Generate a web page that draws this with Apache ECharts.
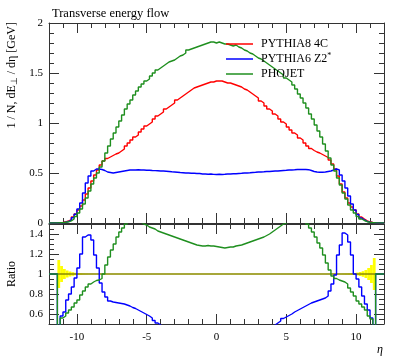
<!DOCTYPE html>
<html><head><meta charset="utf-8">
<script src="https://cdn.jsdelivr.net/npm/echarts@6/dist/echarts.min.js"></script>
<style>html,body{margin:0;padding:0;background:#fff}#c{width:397px;height:358px}</style>
</head><body><div id="c"></div>
<script>
// histogram bins: first lower edge and bin width (eta)
const etaStart = -11.4;
const binWidth = 0.2;
const xTickLabels = [-10, -5, 0, 5, 10];
const yTickLabels = [0, 0.5, 1, 1.5, 2];
const ratioTickLabels = [0.6, 0.8, 1, 1.2, 1.4];
const seriesNames = ['PYTHIA8 4C', 'PYTHIA6 Z2*', 'PHOJET'];

// 1/N dE_T/deta [GeV], one value per bin (114 bins, eta -11.4 .. 11.4)
const pythia8 = [
0.003,0.005,0.012,0.02,0.035,0.06,0.09,0.13,0.17,0.23,
0.29,0.35,0.42,0.48,0.53,0.58,0.62,0.645,0.66,0.675,
0.69,0.70,0.72,0.74,0.77,0.80,0.83,0.86,0.88,0.91,
0.94,0.97,0.99,1.01,1.04,1.07,1.09,1.11,1.14,1.16,
1.18,1.20,1.23,1.25,1.27,1.29,1.31,1.33,1.35,1.36,
1.37,1.38,1.39,1.40,1.41,1.41,1.42,1.42,1.42,1.41,
1.40,1.40,1.39,1.38,1.37,1.36,1.34,1.33,1.31,1.29,
1.27,1.25,1.22,1.20,1.17,1.14,1.12,1.09,1.07,1.04,
1.01,0.99,0.96,0.93,0.90,0.88,0.85,0.83,0.80,0.77,
0.745,0.725,0.71,0.70,0.685,0.67,0.655,0.63,0.59,0.54,
0.47,0.39,0.31,0.25,0.20,0.16,0.13,0.09,0.06,0.04,
0.022,0.012,0.006,0.003];
const pythia6 = [
0.002,0.003,0.008,0.015,0.03,0.052,0.087,0.14,0.20,0.30,
0.40,0.47,0.52,0.54,0.54,0.535,0.525,0.51,0.505,0.50,
0.505,0.51,0.515,0.52,0.525,0.53,0.53,0.53,0.532,0.53,
0.53,0.528,0.527,0.525,0.524,0.522,0.52,0.52,0.518,0.515,
0.512,0.51,0.508,0.505,0.503,0.50,0.50,0.498,0.497,0.495,
0.495,0.49,0.49,0.488,0.49,0.486,0.485,0.488,0.485,0.487,
0.49,0.49,0.492,0.493,0.495,0.497,0.50,0.50,0.502,0.505,
0.507,0.51,0.51,0.512,0.515,0.515,0.518,0.52,0.52,0.523,
0.525,0.527,0.53,0.53,0.532,0.535,0.535,0.535,0.535,0.533,
0.525,0.515,0.51,0.507,0.507,0.51,0.515,0.52,0.53,0.54,
0.53,0.48,0.42,0.35,0.27,0.19,0.13,0.085,0.05,0.03,
0.016,0.008,0.004,0.002];
const phojet = [
0.002,0.003,0.007,0.012,0.022,0.04,0.065,0.10,0.14,0.19,
0.25,0.32,0.39,0.45,0.50,0.56,0.62,0.70,0.77,0.84,
0.90,0.96,1.02,1.08,1.14,1.19,1.23,1.28,1.32,1.36,
1.39,1.42,1.44,1.47,1.50,1.53,1.55,1.57,1.59,1.61,
1.62,1.63,1.65,1.67,1.68,1.70,1.73,1.74,1.75,1.76,
1.77,1.78,1.79,1.80,1.81,1.81,1.80,1.81,1.80,1.79,
1.79,1.78,1.77,1.78,1.76,1.75,1.73,1.72,1.70,1.69,
1.67,1.65,1.64,1.62,1.60,1.58,1.56,1.54,1.52,1.50,
1.48,1.45,1.43,1.41,1.38,1.34,1.29,1.25,1.20,1.15,
1.09,1.04,0.98,0.92,0.86,0.79,0.72,0.65,0.58,0.52,
0.45,0.38,0.30,0.24,0.18,0.13,0.10,0.065,0.04,0.025,
0.013,0.007,0.003,0.002];

// ratio panel values (MC / reference), per bin
const ratioPythia6 = [
0.45,0.58,0.62,0.74,0.80,0.87,0.96,1.06,1.20,1.37,
1.39,1.39,1.34,1.19,1.06,0.91,0.82,0.77,0.73,0.72,
0.715,0.71,0.705,0.70,0.69,0.68,0.665,0.655,0.64,0.625,
0.61,0.595,0.58,0.56,0.535,0.51,0.49,0.47,0.455,0.445,
0.43,0.42,0.41,0.40,0.39,0.385,0.38,0.37,0.365,0.36,
0.36,0.355,0.35,0.35,0.345,0.345,0.34,0.345,0.345,0.345,
0.35,0.35,0.355,0.36,0.36,0.365,0.37,0.375,0.38,0.39,
0.40,0.41,0.42,0.43,0.44,0.45,0.47,0.49,0.51,0.53,
0.555,0.57,0.585,0.60,0.62,0.635,0.65,0.665,0.68,0.695,
0.71,0.72,0.73,0.74,0.75,0.76,0.78,0.83,0.90,0.99,
1.19,1.29,1.41,1.39,1.32,1.19,1.00,0.95,0.87,0.78,
0.70,0.64,0.56,0.45];
const ratioPhojet = [
0.45,0.56,0.58,0.61,0.64,0.67,0.71,0.74,0.79,0.83,
0.87,0.90,0.92,0.935,0.94,0.955,1.00,1.09,1.17,1.24,
1.30,1.37,1.42,1.46,1.50,1.53,1.55,1.55,1.54,1.52,
1.50,1.49,1.47,1.46,1.45,1.43,1.42,1.41,1.40,1.39,
1.38,1.37,1.36,1.35,1.34,1.33,1.32,1.31,1.30,1.29,
1.285,1.28,1.28,1.285,1.28,1.28,1.275,1.27,1.265,1.26,
1.265,1.27,1.27,1.28,1.285,1.29,1.30,1.31,1.32,1.33,
1.34,1.35,1.36,1.37,1.385,1.40,1.42,1.44,1.46,1.48,
1.50,1.51,1.52,1.53,1.54,1.55,1.55,1.54,1.53,1.50,
1.46,1.42,1.37,1.31,1.26,1.19,1.11,1.04,0.98,0.955,
0.94,0.93,0.92,0.90,0.86,0.82,0.78,0.73,0.70,0.67,
0.64,0.58,0.55,0.45];
// reference relative uncertainty (half width of yellow band)
const refError = [
0.14,0.08,0.05,0.035,0.025,0.018,0.012,0.008,0.006,0.004,
0.003,0.002,0.002,0.001,0.001,0.001,0.001,0.001,0.001,0.001,
0.001,0.001,0.001,0.001,0.001,0.001,0.001,0.001,0.001,0.001,
0.001,0.001,0.001,0.001,0.001,0.001,0.001,0.001,0.001,0.001,
0.001,0.001,0.001,0.001,0.001,0.001,0.001,0.001,0.001,0.001,
0.001,0.001,0.001,0.001,0.001,0.001,0.001,0.001,0.001,0.001,
0.001,0.001,0.001,0.001,0.001,0.001,0.001,0.001,0.001,0.001,
0.001,0.001,0.001,0.001,0.001,0.001,0.001,0.001,0.001,0.001,
0.001,0.001,0.001,0.001,0.001,0.001,0.001,0.001,0.001,0.001,
0.001,0.001,0.001,0.001,0.001,0.001,0.001,0.001,0.001,0.001,
0.002,0.002,0.003,0.004,0.005,0.007,0.01,0.014,0.02,0.028,
0.04,0.06,0.09,0.16];

const FONT = 'Liberation Serif';
const AX = '#333';
const C_RED = '#ff0000', C_BLUE = '#0000ff', C_GREEN = '#1f8f1f', C_REF = '#8a8a00', C_BAND = '#ffff00';

function edge(i) { return +(etaStart + i * binWidth).toFixed(3); }
function hist(vals, pad) {
  const pts = [[-12, pad]];
  for (let i = 0; i < vals.length; i++) pts.push([edge(i), vals[i]]);
  pts.push([edge(vals.length), pad]);
  pts.push([12, pad]);
  return pts;
}
function bandData() {
  return refError.map((e, i) => [edge(i), edge(i + 1), 1 - e, 1 + e]);
}

const lineAx = { show: true, onZero: false, lineStyle: { color: AX, width: 1 } };
function xAx(grid, pos, major, labels) {
  const a = {
    type: 'value', gridIndex: grid, position: pos, min: -12, max: 12,
    axisLine: major ? { show: false, onZero: false } : lineAx,
    splitLine: { show: false },
    axisTick: { show: true, inside: true, length: major ? 10 : 5, lineStyle: { color: AX } },
    axisLabel: { show: false }
  };
  if (major) {
    a.axisTick.customValues = xTickLabels;
    if (labels) a.axisLabel = { show: true, customValues: xTickLabels, fontFamily: FONT, fontSize: 11, color: '#000', margin: 8 };
  } else {
    a.interval = 1;
  }
  return a;
}

const xAxes = [
  xAx(0, 'bottom', false), xAx(0, 'bottom', true), xAx(0, 'top', false), xAx(0, 'top', true),
  xAx(1, 'bottom', false), xAx(1, 'bottom', true, true), xAx(1, 'top', false), xAx(1, 'top', true)
];
function yMain(pos, labels) {
  return {
    type: 'value', gridIndex: 0, position: pos, min: 0, max: 2, interval: 0.5,
    axisLine: lineAx, splitLine: { show: false },
    axisTick: { show: true, inside: true, length: 10, lineStyle: { color: AX } },
    minorTick: { show: true, splitNumber: 5, length: 5, lineStyle: { color: AX } },
    axisLabel: labels ? { show: true, customValues: yTickLabels, fontFamily: FONT, fontSize: 11, color: '#000', margin: 6 } : { show: false }
  };
}
function yRatio(pos, major, labels) {
  const a = {
    type: 'value', gridIndex: 1, position: pos, min: 0.5, max: 1.5,
    axisLine: major ? lineAx : { show: false, onZero: false }, splitLine: { show: false },
    axisTick: { show: true, inside: true, length: major ? 10 : 5, lineStyle: { color: AX } },
    axisLabel: { show: false }
  };
  if (major) {
    a.axisTick.customValues = ratioTickLabels;
    if (labels) a.axisLabel = { show: true, customValues: ratioTickLabels, fontFamily: FONT, fontSize: 11, color: '#000', margin: 6 };
  } else {
    a.interval = 0.05;
  }
  return a;
}
const yAxes = [
  yMain('left', true), yMain('right', false),
  yRatio('left', true, true), yRatio('left', false), yRatio('right', true), yRatio('right', false)
];

function histSeries(name, vals, color, xi, yi, pad) {
  return {
    name: name, type: 'line', xAxisIndex: xi, yAxisIndex: yi, step: 'end',
    data: hist(vals, pad), showSymbol: false, symbol: 'none', silent: true,
    lineStyle: { color: color, width: 1.4 }, itemStyle: { color: color }, clip: true, animation: false
  };
}

const option = {
  animation: false,
  title: { text: 'Transverse energy flow', left: 47, top: 2, textStyle: { fontFamily: FONT, fontSize: 12.5, fontWeight: 'normal', color: '#000' } },
  grid: [
    { left: 49, top: 23, width: 335, height: 200 },
    { left: 49, top: 224, width: 335, height: 100 }
  ],
  xAxis: xAxes,
  yAxis: yAxes,
  legend: {
    data: seriesNames, left: 221, top: 32, orient: 'vertical', itemWidth: 27, itemHeight: 1.5, itemGap: 1,
    icon: 'rect',
    textStyle: { fontFamily: FONT, fontSize: 12, color: '#000', lineHeight: 14, padding: [0, 0, 0, 3], rich: { sup: { fontFamily: FONT, fontSize: 8, lineHeight: 14, padding: [0, 0, 6, 0] } } },
    formatter: n => n.replace('*', '{sup|*}')
  },
  graphic: [
    { type: 'text', x: 12, y: 22, rotation: Math.PI / 2, style: {
        text: '1 / N, dE{sub|⊥} / dη [GeV]', font: '12px "Liberation Serif"', fill: '#000', align: 'right', verticalAlign: 'middle',
        rich: { sub: { fontFamily: FONT, fontSize: 9, padding: [5, 0, 0, 0], fill: '#000' } } } },
    { type: 'text', x: 12, y: 274, rotation: Math.PI / 2, style: { text: 'Ratio', font: '12px "Liberation Serif"', fill: '#000', align: 'center', verticalAlign: 'middle' } },
    { type: 'text', x: 380, y: 350, style: { text: 'η', font: 'italic 12px "Liberation Serif"', fill: '#000', align: 'center', verticalAlign: 'middle' } }
  ],
  series: [
    histSeries(seriesNames[0], pythia8, C_RED, 0, 0, 0),
    histSeries(seriesNames[1], pythia6, C_BLUE, 0, 0, 0),
    histSeries(seriesNames[2], phojet, C_GREEN, 0, 0, 0),
    {
      type: 'custom', xAxisIndex: 4, yAxisIndex: 2, data: bandData(), silent: true, clip: true,
      encode: { x: [0, 1], y: [2, 3] },
      renderItem: function (params, api) {
        const p0 = api.coord([api.value(0), api.value(3)]);
        const p1 = api.coord([api.value(1), api.value(2)]);
        return { type: 'rect', shape: { x: p0[0], y: p0[1], width: p1[0] - p0[0], height: p1[1] - p0[1] }, style: { fill: C_BAND } };
      }
    },
    { type: 'line', xAxisIndex: 4, yAxisIndex: 2, data: [[-12, 1], [12, 1]], showSymbol: false, symbol: 'none', silent: true, lineStyle: { color: C_REF, width: 1.3 } },
    histSeries('r6', ratioPythia6, C_BLUE, 4, 2, 1),
    histSeries('rph', ratioPhojet, C_GREEN, 4, 2, 1)
  ]
};
const chart = echarts.init(document.getElementById('c'), null, { renderer: 'canvas' });
chart.setOption(option);
</script>
</body></html>
